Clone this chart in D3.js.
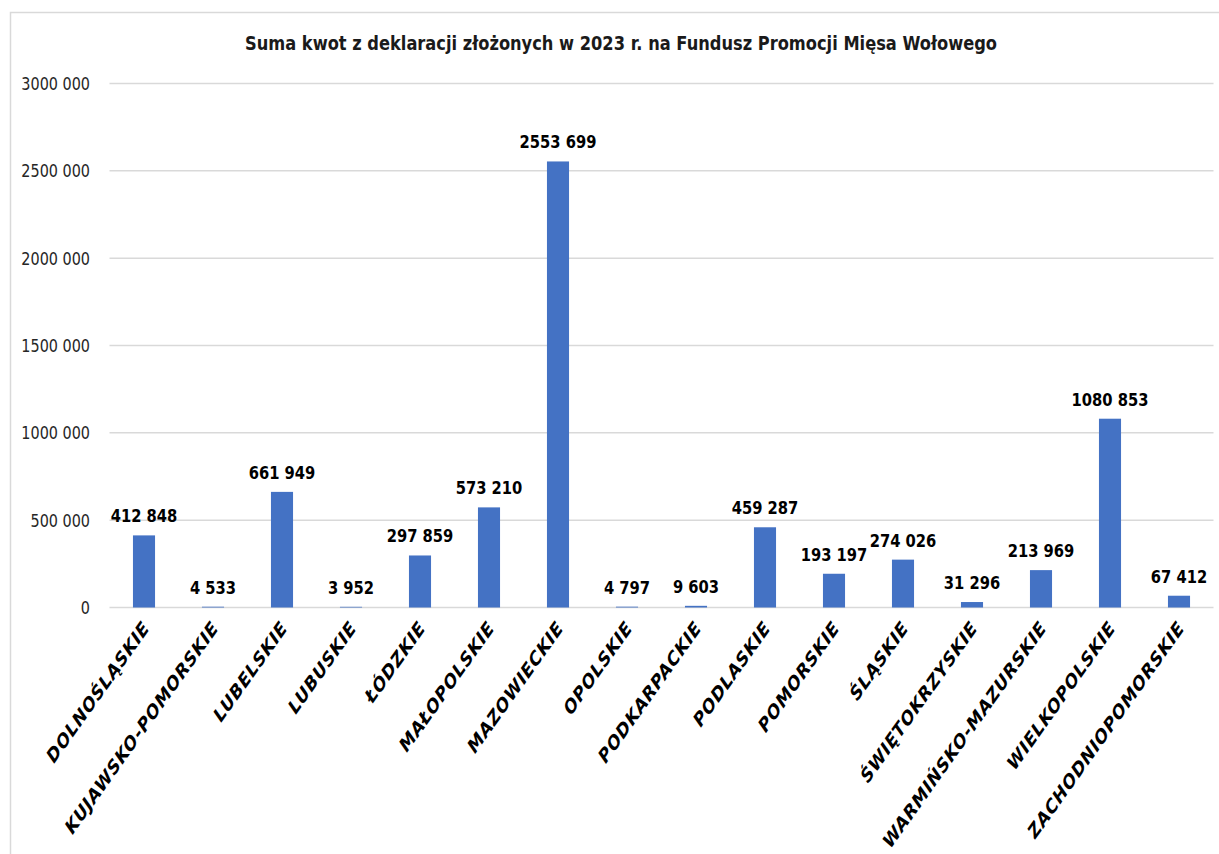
<!DOCTYPE html>
<html>
<head>
<meta charset="utf-8">
<script src="https://cdn.jsdelivr.net/npm/d3@7"></script>
<style>
  body { margin: 0; background: #fff; }
  text { font-family: "DejaVu Sans", sans-serif; }
</style>
</head>
<body>
<div id="chart"></div>
<script>
// Chart data
const categories = [
    "DOLNOŚLĄSKIE", "KUJAWSKO-POMORSKIE", "LUBELSKIE", "LUBUSKIE",
    "ŁÓDZKIE", "MAŁOPOLSKIE", "MAZOWIECKIE", "OPOLSKIE",
    "PODKARPACKIE", "PODLASKIE", "POMORSKIE", "ŚLĄSKIE",
    "ŚWIĘTOKRZYSKIE", "WARMIŃSKO-MAZURSKIE", "WIELKOPOLSKIE", "ZACHODNIOPOMORSKIE"
];
const values = [
    412848, 4533, 661949, 3952,
    297859, 573210, 2553699, 4797,
    9603, 459287, 193197, 274026,
    31296, 213969, 1080853, 67412
];
const yTicks = [0, 500000, 1000000, 1500000, 2000000, 2500000, 3000000];
const title = "Suma kwot z deklaracji złożonych w 2023 r. na Fundusz Promocji Mięsa Wołowego";

const width = 1219, height = 854;

// number format like "2553 699" / "4 533"
function fmt(v) {
    if (v < 1000) return String(v);
    const rest = String(v % 1000).padStart(3, "0");
    return Math.floor(v / 1000) + " " + rest;
}

const svg = d3.select("#chart")
    .append("svg")
    .attr("width", width)
    .attr("height", height);

// outer chart border
svg.append("rect")
    .attr("x", 10.5)
    .attr("y", 12.5)
    .attr("width", 1240)
    .attr("height", 900)
    .style("fill", "none")
    .style("stroke", "#d9d9d9")
    .style("stroke-width", "1.5px");

const x = d3.scaleBand()
    .domain(categories)
    .range([109.5, 1213.5])
    .paddingInner(0.68)
    .paddingOuter(0.34);

const y = d3.scaleLinear()
    .domain([0, 3000000])
    .range([607.5, 83.5]);

// title
svg.append("text")
    .attr("x", 621)
    .attr("y", 50)
    .attr("text-anchor", "middle")
    .attr("textLength", 752)
    .attr("lengthAdjust", "spacingAndGlyphs")
    .style("font-size", "19px")
    .style("font-weight", "bold")
    .style("fill", "#1a1a1a")
    .text(title);

// gridlines
svg.append("g")
    .selectAll("line")
    .data(yTicks)
    .enter()
    .append("line")
    .attr("x1", 109.5)
    .attr("x2", 1213.5)
    .attr("y1", d => y(d))
    .attr("y2", d => y(d))
    .style("stroke", "#d9d9d9")
    .style("stroke-width", "1.5px");

// y axis labels
svg.append("g")
    .selectAll("text")
    .data(yTicks)
    .enter()
    .append("text")
    .attr("transform", d => `translate(90,${y(d)}) scale(0.8,1)`)
    .attr("dy", "0.36em")
    .attr("text-anchor", "end")
    .style("font-size", "18px")
    .style("fill", "#262626")
    .text(d => fmt(d));

// bars
svg.append("g")
    .selectAll("rect")
    .data(values)
    .enter()
    .append("rect")
    .attr("x", (d, i) => x(categories[i]))
    .attr("y", d => y(d))
    .attr("width", x.bandwidth())
    .attr("height", d => y(0) - y(d))
    .style("fill", "#4472c4");

// value labels
svg.append("g")
    .selectAll("text")
    .data(values)
    .enter()
    .append("text")
    .attr("transform", (d, i) =>
        `translate(${x(categories[i]) + x.bandwidth() / 2},${y(d) - 13}) scale(0.82,1)`)
    .attr("text-anchor", "middle")
    .style("font-size", "18px")
    .style("font-weight", "bold")
    .style("fill", "#000")
    .text(d => fmt(d));

// category labels, rotated
svg.append("g")
    .selectAll("text")
    .data(categories)
    .enter()
    .append("text")
    .attr("transform", d =>
        `translate(${x(d) + x.bandwidth() / 2 + 2},${624}) scale(0.71,1) rotate(-45)`)
    .attr("dy", "0.35em")
    .attr("text-anchor", "end")
    .style("font-size", "21px")
    .style("letter-spacing", "0.8px")
    .style("font-weight", "bold")
    .style("fill", "#000")
    .text(d => d);
</script>
</body>
</html>
